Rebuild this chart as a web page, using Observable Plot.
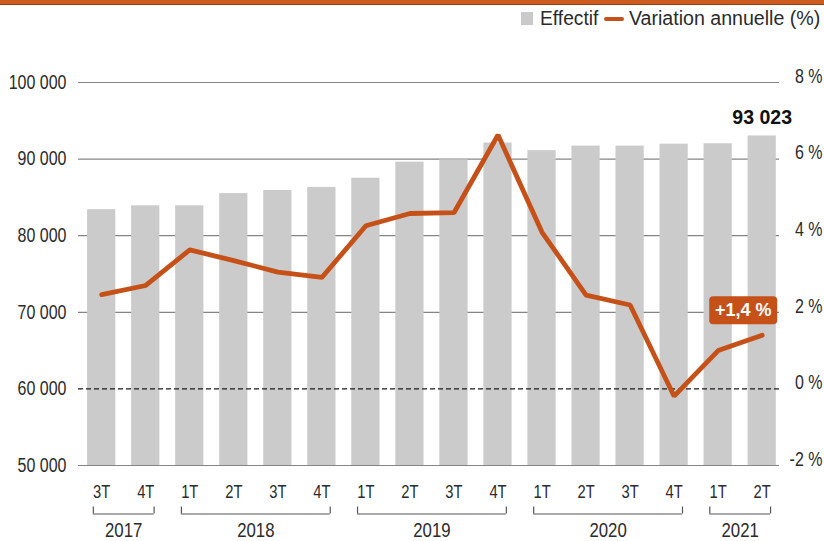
<!DOCTYPE html>
<html>
<head>
<meta charset="utf-8">
<script src="https://cdn.jsdelivr.net/npm/d3@7"></script>
<script src="https://cdn.jsdelivr.net/npm/@observablehq/plot@0.6"></script>
<style>
  html, body { margin: 0; padding: 0; background: #ffffff; }
  body { width: 824px; height: 541px; overflow: hidden; font-family: 'Liberation Sans', Arial, sans-serif; color: #2b2b2b; }
  #band { height: 4px; background: #cf5c1f; border-bottom: 1px solid #93400f; }
  #legend { position: relative; height: 33px; }
  #legend .sw { position: absolute; left: 521px; top: 7px; width: 12px; height: 13px; background: #c9c9c9; }
  #legend .t1 { position: absolute; left: 540px; top: 1px; font-size: 20px; line-height: 24px; transform: scaleX(0.96); transform-origin: left center; white-space: nowrap; }
  #legend .ln { position: absolute; left: 604px; top: 12px; width: 20px; height: 4px; border-radius: 2px; background: #c55119; }
  #legend .t2 { position: absolute; right: 4px; top: 1px; font-size: 20px; line-height: 24px; transform: scaleX(0.98); transform-origin: right center; white-space: nowrap; }
</style>
</head>
<body>
<div id="band"></div>
<div id="legend">
  <div class="sw"></div><span class="t1">Effectif</span>
  <div class="ln"></div><span class="t2">Variation annuelle (%)</span>
</div>
<div id="chart"></div>
<script>
// ---- data ----
const quarters = ["3T","4T","1T","2T","3T","4T","1T","2T","3T","4T","1T","2T","3T","4T","1T","2T"];
const quarterYears = ["2017","2017","2018","2018","2018","2018","2019","2019","2019","2019","2020","2020","2020","2020","2021","2021"];
const effectif = [83400, 83900, 83900, 85500, 85900, 86300, 87500, 89600, 89900, 92100, 91100, 91700, 91700, 91950, 92000, 93023];
const variation = [2.46, 2.70, 3.63, 3.35, 3.05, 2.91, 4.26, 4.58, 4.60, 6.63, 4.09, 2.45, 2.19, -0.19, 1.00, 1.40];
const leftTicks = [50000, 60000, 70000, 80000, 90000, 100000];
const rightTicks = [-2, 0, 2, 4, 6, 8];
const lastEffectifLabel = "93 023";
const lastVariationLabel = "+1,4 %";

// right axis: 0 % sits on 60 000, 2 % per 10 000
const pctZero = 60000, pctUnit = 5000;
const toY = p => pctZero + p * pctUnit;

const rows = quarters.map((q, i) => ({i, q, year: quarterYears[i], effectif: effectif[i], pct: variation[i]}));
const yearGroups = Array.from(d3.group(rows, d => d.year), ([year, rs]) => ({
  year, first: d3.min(rs, d => d.i), last: d3.max(rs, d => d.i)
}));
const bracketPad = 0.19;
const bracketEnds = yearGroups.flatMap(g => [{x: g.first - bracketPad}, {x: g.last + bracketPad}]);
const base = leftTicks[0];
const last = rows[rows.length - 1];

const FONT = "'Liberation Sans', Arial, sans-serif";
const ORANGE = "#c55119";
const TXT = "#2b2b2b";

const fmtThousands = v => d3.format(",")(v).replace(/,/g, " ");

const roundRect = {
  draw(ctx) {
    const w = 34, h = 14, r = 4;
    ctx.moveTo(-w + r, -h);
    ctx.lineTo(w - r, -h);
    ctx.arcTo(w, -h, w, -h + r, r);
    ctx.lineTo(w, h - r);
    ctx.arcTo(w, h, w - r, h, r);
    ctx.lineTo(-w + r, h);
    ctx.arcTo(-w, h, -w, h - r, r);
    ctx.lineTo(-w, -h + r);
    ctx.arcTo(-w, -h, -w + r, -h, r);
    ctx.closePath();
  }
};

const chart = Plot.plot({
  width: 824,
  height: 503,
  marginTop: 44,
  marginBottom: 76,
  marginLeft: 78,
  marginRight: 45,
  style: {background: "transparent", fontFamily: FONT, color: TXT},
  x: {type: "linear", domain: [0, 15], range: [101.2, 761.7], axis: null},
  y: {domain: [50000, 100000], axis: null},
  marks: [
    Plot.ruleY(leftTicks.filter(v => v !== pctZero), {stroke: "#858585", strokeWidth: 1.2}),
    Plot.rect(rows, {x1: d => d.i - 0.5, x2: d => d.i + 0.5, y1: () => base, y2: "effectif",
      insetLeft: 7.9, insetRight: 7.9, fill: "#cbcbcb"}),
    Plot.ruleY([pctZero], {stroke: "#1a1a1a", strokeWidth: 1.3, strokeDasharray: "5,3"}),
    Plot.line(rows, {x: "i", y: d => toY(d.pct), stroke: ORANGE, strokeWidth: 4.8, strokeLinejoin: "miter"}),
    // left axis labels
    Plot.text(leftTicks, {y: d => d, text: fmtThousands, frameAnchor: "left", textAnchor: "end", lineAnchor: "middle",
      dx: -12, fontSize: 19.5, fill: TXT}),
    // right axis labels
    Plot.text(rightTicks, {y: toY, text: d => `${d} %`, frameAnchor: "right", textAnchor: "end", lineAnchor: "middle",
      dx: 43, dy: -6, fontSize: 19.5, fill: TXT}),
    // quarter labels
    Plot.text(rows, {x: "i", text: "q", frameAnchor: "bottom", lineAnchor: "middle", dy: 26.5, fontSize: 18, fill: TXT}),
    // year brackets
    Plot.ruleY(yearGroups, {x1: d => d.first - bracketPad, x2: d => d.last + bracketPad, y: () => base, dy: 48.5,
      stroke: "#555", strokeWidth: 1.2}),
    Plot.ruleX(bracketEnds, {x: "x", y1: () => base, y2: () => base, dy: 41.5, insetBottom: -7,
      stroke: "#555", strokeWidth: 1.2}),
    Plot.text(yearGroups, {x: d => (d.first + d.last) / 2, text: "year", frameAnchor: "bottom", lineAnchor: "middle",
      dy: 65, fontSize: 20.5, fill: TXT}),
    // last value label
    Plot.text([last], {x: "i", y: "effectif", text: () => lastEffectifLabel, dy: -18,
      fontWeight: "bold", fontSize: 19.5, fill: "#111"}),
    // variation label box
    Plot.dot([last], {x: "i", y: d => toY(d.pct), dx: -19, dy: -25, symbol: roundRect, fill: ORANGE, stroke: "none"}),
    Plot.text([last], {x: "i", y: d => toY(d.pct), dx: -19, dy: -25, text: () => lastVariationLabel,
      fontWeight: "bold", fontSize: 18, fill: "#ffffff"})
  ]
});

// condensed look: squeeze regular-weight texts horizontally around their anchor
d3.select(chart).selectAll("text").each(function () {
  const g = this.parentNode;
  if (g && g.getAttribute && g.getAttribute("font-weight") === "bold") return;
  let t = this.getAttribute("transform");
  if (!t) {
    const x = +this.getAttribute("x") || 0, y = +this.getAttribute("y") || 0;
    this.removeAttribute("x"); this.removeAttribute("y");
    t = `translate(${x},${y})`;
  }
  this.setAttribute("transform", `${t} scale(0.82,1)`);
});

document.getElementById("chart").appendChild(chart);
</script>
</body>
</html>
